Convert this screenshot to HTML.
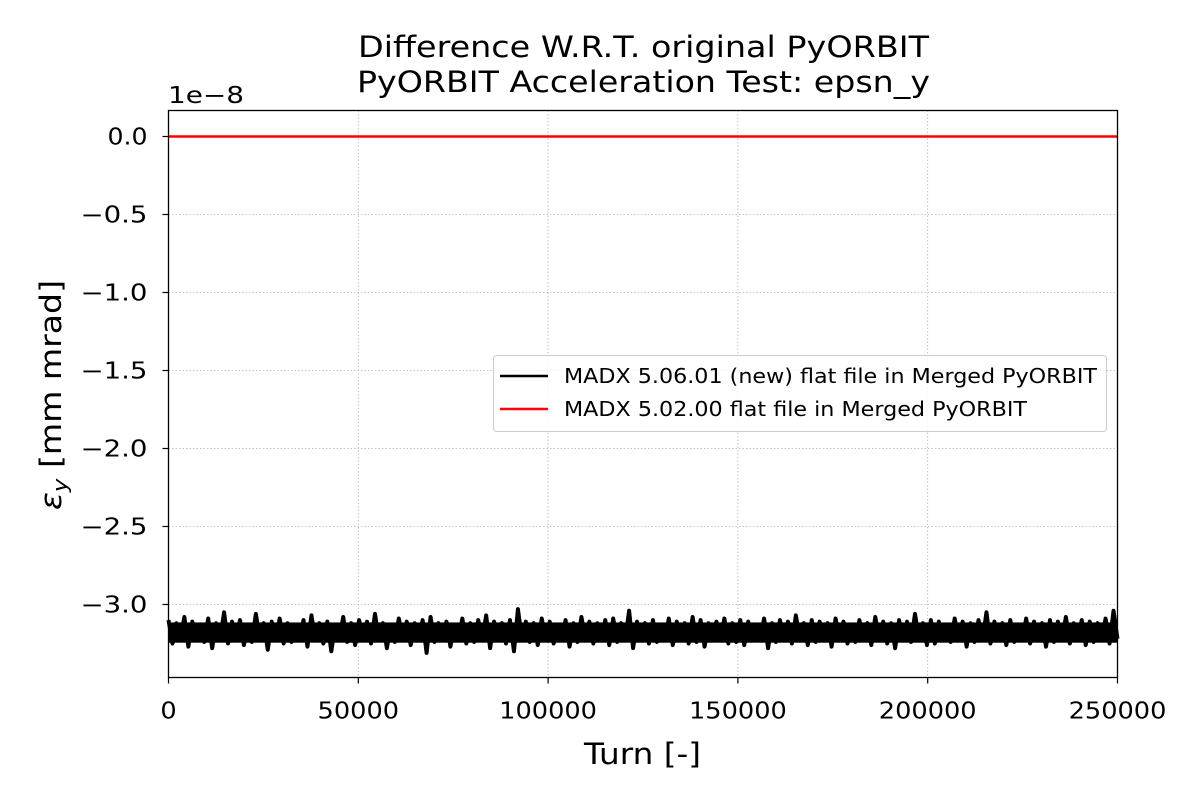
<!DOCTYPE html>
<html><head><meta charset="utf-8"><style>
body{margin:0;background:#fff;width:1200px;height:800px;overflow:hidden}
svg text{font-family:"DejaVu Sans","Liberation Sans",sans-serif;fill:#000}
</style></head><body>
<svg id="chart" width="1200" height="800">
<text x="358" y="57" font-size="29" textLength="571" lengthAdjust="spacingAndGlyphs">Difference W.R.T. original PyORBIT</text>
<text x="357" y="92" font-size="29" textLength="573" lengthAdjust="spacingAndGlyphs">PyORBIT Acceleration Test: epsn_y</text>
<text x="168" y="103" font-size="23" textLength="76" lengthAdjust="spacingAndGlyphs">1e−8</text>
<g id="grid"></g>
<g id="series"></g>
<rect x="168.5" y="110.5" width="949" height="567" fill="none" stroke="#000" stroke-width="1.3"/>
<g id="ticks"></g>
<text x="584" y="764" font-size="29" textLength="117" lengthAdjust="spacingAndGlyphs">Turn [-]</text>
<text transform="translate(61,510) rotate(-90)" font-size="29" textLength="230" lengthAdjust="spacingAndGlyphs"><tspan font-style="italic">ε</tspan><tspan font-size="20" dy="6" font-style="italic">y</tspan><tspan dy="-6"> [mm mrad]</tspan></text>
<g>
<rect x="493.5" y="355.5" width="613" height="76" rx="3" fill="#fff" fill-opacity="0.8" stroke="#ccc"/>
<line x1="500" y1="376" x2="548" y2="376" stroke="#000" stroke-width="2.5"/>
<text x="564" y="383" font-size="20" textLength="533" lengthAdjust="spacingAndGlyphs">MADX 5.06.01 (new) flat file in Merged PyORBIT</text>
<line x1="500" y1="409" x2="548" y2="409" stroke="#f00" stroke-width="2.5"/>
<text x="564" y="416" font-size="20" textLength="463" lengthAdjust="spacingAndGlyphs">MADX 5.02.00 flat file in Merged PyORBIT</text>
</g>
</svg>
<script>
const xTicks=[0,50000,100000,150000,200000,250000];
const yTicks=[0,-0.5,-1.0,-1.5,-2.0,-2.5,-3.0];
const yTickLabels=["0.0","−0.5","−1.0","−1.5","−2.0","−2.5","−3.0"];
const redY=[0,0];
const redX=[0,250000];
const blackHi=[-3.10,-3.12,-3.08,-3.11,-3.13,-3.09,-3.12,-3.05,-3.11,-3.10,-3.13,-3.06,-3.12,-3.11,-3.09,-3.12,-3.14,-3.10,-3.07,-3.12,-3.11,-3.13,-3.08,-3.12,-3.10,-3.11,-3.06,-3.12,-3.13,-3.09,-3.11,-3.12,-3.10,-3.08,-3.12,-3.11,-3.13,-3.09,-3.12,-3.10,-3.07,-3.11,-3.12,-3.10,-3.03,-3.11,-3.12,-3.09,-3.11,-3.13,-3.10,-3.12,-3.08,-3.11,-3.12,-3.10,-3.09,-3.12,-3.04,-3.11,-3.12,-3.10,-3.13,-3.09,-3.11,-3.12,-3.08,-3.10,-3.12,-3.11,-3.09,-3.12,-3.10,-3.11,-3.13,-3.09,-3.12,-3.10,-3.11,-3.07,-3.12,-3.10,-3.11,-3.12,-3.09,-3.11,-3.13,-3.10,-3.12,-3.08,-3.11,-3.12,-3.10,-3.11,-3.06,-3.12,-3.10,-3.11,-3.13,-3.09,-3.11,-3.12,-3.10,-3.05,-3.11,-3.12,-3.10,-3.13,-3.09,-3.11,-3.12,-3.10,-3.11,-3.08,-3.12,-3.10,-3.11,-3.12,-3.09,-3.04];
const blackLo=[-3.25,-3.22,-3.27,-3.23,-3.24,-3.28,-3.22,-3.25,-3.23,-3.26,-3.24,-3.22,-3.29,-3.23,-3.25,-3.24,-3.22,-3.27,-3.23,-3.25,-3.30,-3.23,-3.24,-3.26,-3.22,-3.25,-3.23,-3.28,-3.24,-3.22,-3.26,-3.23,-3.31,-3.24,-3.22,-3.27,-3.23,-3.25,-3.24,-3.22,-3.28,-3.23,-3.25,-3.30,-3.22,-3.24,-3.26,-3.23,-3.25,-3.22,-3.27,-3.24,-3.23,-3.25,-3.22,-3.26,-3.24,-3.23,-3.28,-3.22,-3.25,-3.24,-3.23,-3.26,-3.22,-3.25,-3.24,-3.27,-3.23,-3.22,-3.25,-3.24,-3.26,-3.23,-3.22,-3.28,-3.24,-3.23,-3.25,-3.22,-3.26,-3.24,-3.23,-3.27,-3.22,-3.25,-3.24,-3.23,-3.26,-3.22,-3.25,-3.28,-3.23,-3.24,-3.22,-3.26,-3.25,-3.23,-3.24,-3.22,-3.27,-3.24,-3.23,-3.25,-3.22,-3.26,-3.24,-3.23,-3.25,-3.22,-3.27,-3.24,-3.23,-3.25,-3.22,-3.26,-3.24,-3.23,-3.25,-3.22];
const X0=168.5,X1=1117.5,Y0=110.5,Y1=677.5,xMin=0,xMax=250000,yMin=-3.468,yMax=0.1667;
const sx=v=>X0+(v-xMin)/(xMax-xMin)*(X1-X0);
const sy=v=>Y1-(v-yMin)/(yMax-yMin)*(Y1-Y0);
const NS='http://www.w3.org/2000/svg';
const grid=document.getElementById('grid'),ticks=document.getElementById('ticks'),series=document.getElementById('series');
function mk(tag,attrs,parent){const e=document.createElementNS(NS,tag);for(const k in attrs)e.setAttribute(k,attrs[k]);parent.appendChild(e);return e;}
xTicks.forEach(v=>{const x=sx(v);
const g=mk('line',{x1:x,x2:x,y1:Y0,y2:Y1,stroke:'#b0b0b0','stroke-width':0.8,'stroke-dasharray':'1.5,2'},grid);


const t=mk('line',{x1:x,x2:x,y1:Y1,y2:Y1+6,stroke:'#000','stroke-width':1.2},ticks);


const s=String(v);
const l=mk('text',{x:x,y:Y1+41,'font-size':23,'text-anchor':'middle',textLength:s.length*16.3,lengthAdjust:'spacingAndGlyphs'},ticks);l.textContent=s;

});
yTicks.forEach((v,i)=>{const y=sy(v);
const g=mk('line',{x1:X0,x2:X1,y1:y,y2:y,stroke:'#b0b0b0','stroke-width':0.8,'stroke-dasharray':'1.5,2'},grid);


const t=mk('line',{x1:X0-6,x2:X0,y1:y,y2:y,stroke:'#000','stroke-width':1.2},ticks);


const s=yTickLabels[i];
const l=mk('text',{x:X0-21,y:y+8,'font-size':23,'text-anchor':'end',textLength:(s.length===3?40:67),lengthAdjust:'spacingAndGlyphs'},ticks);l.textContent=s;

});
const n=blackHi.length+blackLo.length;let pts=[];
for(let i=0;i<blackHi.length;i++){
 pts.push(sx(xMin+(2*i)/(n-1)*(xMax-xMin))+','+sy(blackHi[i]));
 pts.push(sx(xMin+(2*i+1)/(n-1)*(xMax-xMin))+','+sy(blackLo[i]));}
const bl=mk('polyline',{points:pts.join(' '),fill:'none',stroke:'#000','stroke-width':4,'stroke-linejoin':'round'},series);


const band=mk('rect',{x:X0,y:sy(-3.115),width:X1-X0,height:sy(-3.245)-sy(-3.115),fill:'#000'},series);


const rl=mk('line',{x1:sx(redX[0]),x2:sx(redX[1]),y1:sy(redY[0]),y2:sy(redY[1]),stroke:'#f00','stroke-width':2.5},series);


</script>
</body></html>
